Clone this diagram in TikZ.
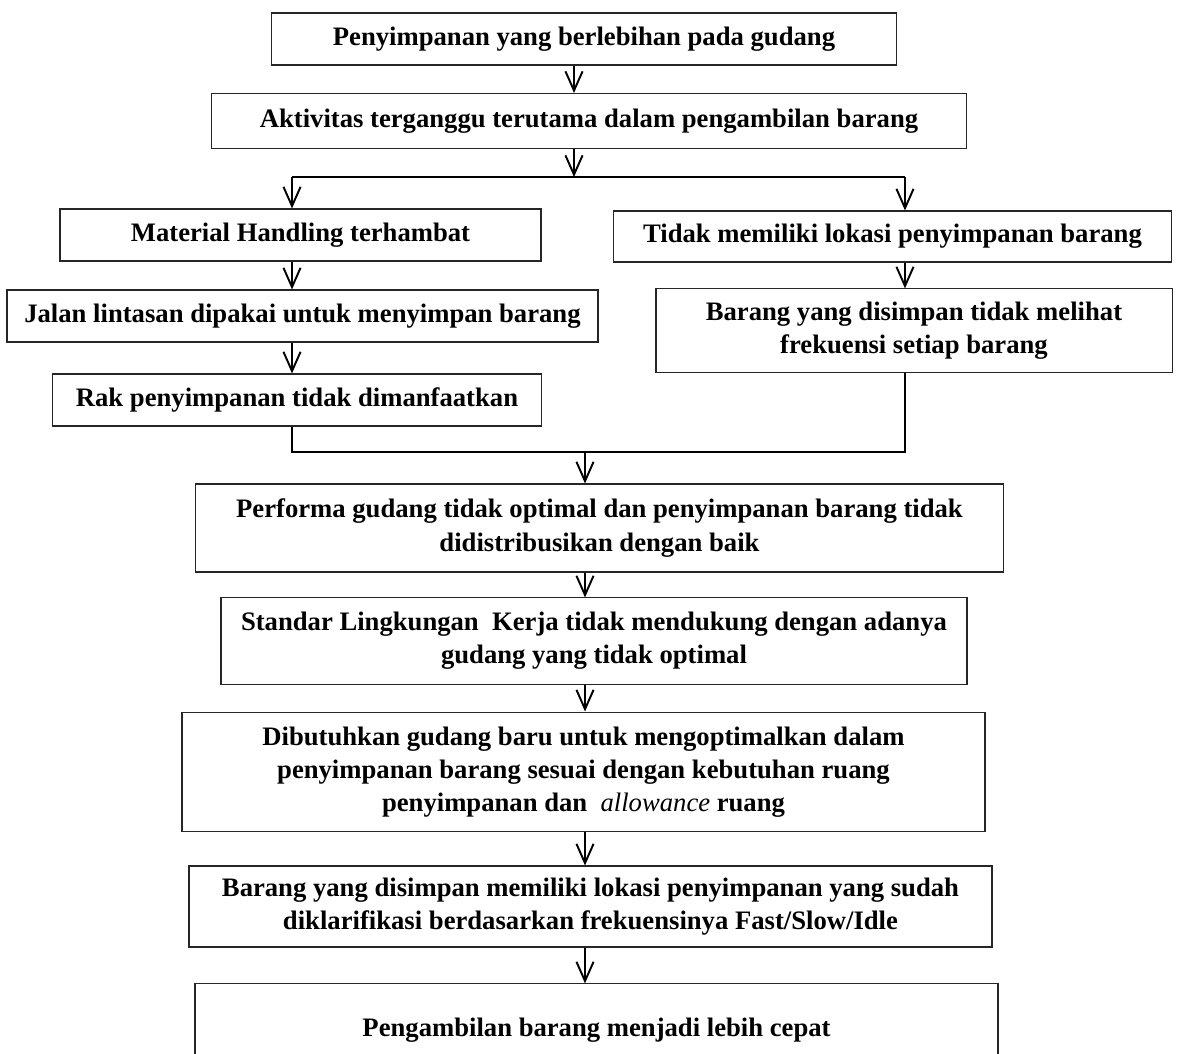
\documentclass[tikz,border=0pt]{standalone}
\usepackage{fontspec}
\setmainfont{Liberation Serif}
\usetikzlibrary{arrows.meta}

\tikzset{
    box/.style = {draw=black!85, line width=0.5pt, align=center, inner sep=2pt,
        font=\fontsize{12.45}{15.5}\selectfont\bfseries},
    link/.style = {line width=0.9pt, -{Straight Barb[length=9pt,width=8pt]}},
    wire/.style = {line width=0.9pt}
}

\begin{document}
\begin{tikzpicture}[x=0.467pt, y=-0.467pt]
    \useasboundingbox (0,0) rectangle (1184,1054);

    % Top chain
    \node[box, minimum width=292.3pt, minimum height=24.3pt] (stock) at (584,39) {Penyimpanan yang berlebihan pada gudang};
    \node[box, minimum width=353pt, minimum height=25.7pt] (activity) at (589,121) {Aktivitas terganggu terutama dalam pengambilan barang};

    % Left branch
    \node[box, minimum width=224.6pt, minimum height=24.3pt] (handling) at (300.5,235) {Material Handling terhambat};
    \node[box, minimum width=276pt, minimum height=24.3pt] (aisle) at (302.5,316) {Jalan lintasan dipakai untuk menyimpan barang};
    \node[box, minimum width=228pt, minimum height=24.3pt] (rack) at (297,400) {Rak penyimpanan tidak dimanfaatkan};

    % Right branch
    \node[box, minimum width=261pt, minimum height=23.8pt] (location) at (892.5,236.5) {Tidak memiliki lokasi penyimpanan barang};
    \node[box, minimum width=241pt, minimum height=38.8pt] (frequency) at (914,330.5) {Barang yang disimpan tidak melihat\\frekuensi setiap barang};

    % Bottom chain
    \node[box, minimum width=376.9pt, minimum height=41.1pt] (performance) at (599.5,528) {Performa gudang tidak optimal dan penyimpanan barang tidak\\didistribusikan dengan baik};
    \node[box, minimum width=348.4pt, minimum height=40.2pt] (standard) at (594,641) {Standar Lingkungan~ Kerja tidak mendukung dengan adanya\\gudang yang tidak optimal};
    \node[box, minimum width=375pt, minimum height=56pt] (newstore) at (583.5,772) {Dibutuhkan gudang baru untuk mengoptimalkan dalam\\penyimpanan barang sesuai dengan kebutuhan ruang\\penyimpanan dan~ {\normalfont\itshape allowance} ruang};
    \node[box, minimum width=375pt, minimum height=37.8pt] (classified) at (590.5,906.5) {Barang yang disimpan memiliki lokasi penyimpanan yang sudah\\diklarifikasi berdasarkan frekuensinya Fast/Slow/Idle};
    \node[box, minimum width=375pt, minimum height=43pt] (faster) at (596.5,1030) {Pengambilan barang menjadi lebih cepat};

    % Connector guides
    \coordinate (split) at (574,177);
    \coordinate (leftx) at (292,0);
    \coordinate (rightx) at (905,0);
    \coordinate (merge) at (585,452);

    % Arrows at the top
    \draw[link] (stock.south -| split) -- (activity.north -| split);
    \draw[link] (activity.south -| split) -- (split);
    \draw[wire] (split -| leftx) -- (split -| rightx);
    \draw[link] (split -| leftx) -- (handling.north -| leftx);
    \draw[link] (split -| rightx) -- (location.north -| rightx);

    % Arrows in the branches
    \draw[link] (handling.south -| leftx) -- (aisle.north -| leftx);
    \draw[link] (aisle.south -| leftx) -- (rack.north -| leftx);
    \draw[link] (location.south -| rightx) -- (frequency.north -| rightx);

    % Merge
    \draw[wire] (rack.south -| leftx) -- (merge -| leftx) -- (merge -| rightx) -- (frequency.south -| rightx);
    \draw[link] (merge) -- (performance.north -| merge);

    % Arrows at the bottom
    \foreach \a/\b in {performance/standard, standard/newstore, newstore/classified, classified/faster}
        \draw[link] (\a.south -| merge) -- (\b.north -| merge);
\end{tikzpicture}
\end{document}
